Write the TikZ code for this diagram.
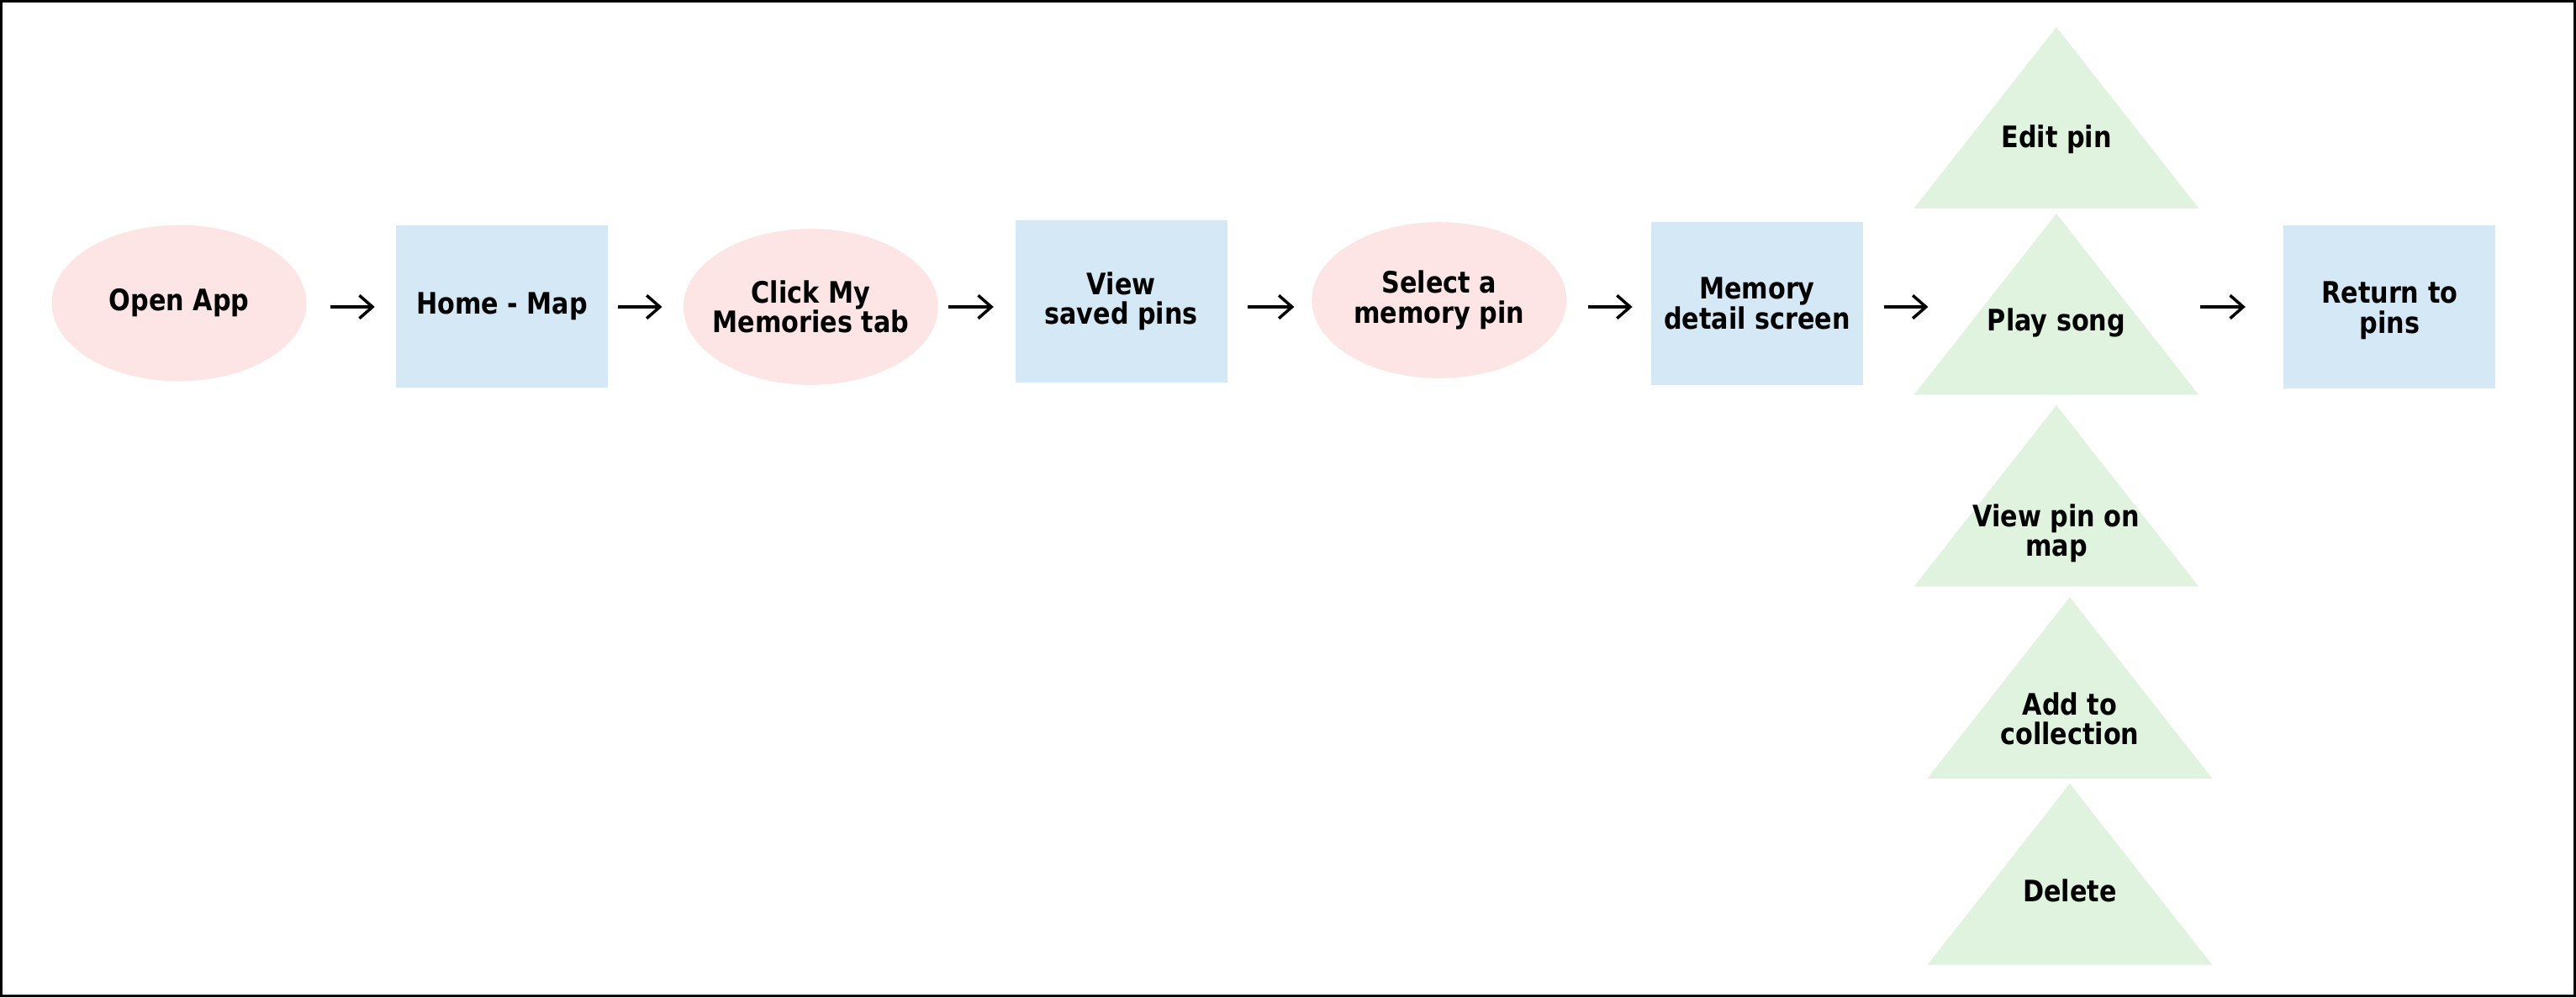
\documentclass[tikz,border=0pt]{standalone}
\usepackage{fontspec}
\newfontfamily\lblfont{DejaVu Sans Bold}[FakeStretch=0.86]
\usetikzlibrary{shapes.geometric,arrows.meta}
\definecolor{pinkfill}{HTML}{FDE4E5}
\definecolor{bluefill}{HTML}{D5E8F5}
\definecolor{greenfill}{HTML}{E0F3DE}
\tikzset{
  lbl/.style={font=\lblfont\fontsize{18}{18}\selectfont, align=center, text=black},
  oval/.style={rectangle, minimum width=155pt, minimum height=95pt, inner sep=0pt, lbl,
    path picture={\fill[pinkfill] (path picture bounding box.center) ellipse [x radius=77.5pt, y radius=47.5pt];}},
  box/.style={rectangle, fill=bluefill, minimum width=129pt, minimum height=99pt, inner sep=0pt, lbl},
  tri/.style={rectangle, minimum width=173.3pt, minimum height=110.3pt, inner sep=0pt,
    path picture={\fill[greenfill] (path picture bounding box.north) -- (path picture bounding box.south west) -- (path picture bounding box.south east) -- cycle;}},
  flow/.style={draw=black, line width=1.8pt, -{Straight Barb[length=8pt,width=14pt,line width=1.8pt]}}
}
\begin{document}
\begin{tikzpicture}[x=1pt,y=-1pt]
\useasboundingbox (0,0) rectangle (1568,607);
\fill[white] (0,0) rectangle (1568,607);
\draw[line width=1.5pt] (0.75,0.75) rectangle (1567.25,606.25);

\coordinate (row) at (0,186.8);

\node[oval] (open) at (109,184.5) {Open App};
\node[box] (home) at (305.5,186.5) {Home - Map};
\node[oval] (click) at (493.5,186.8) {Click My\\Memories tab};
\node[box] (saved) at (682.5,183.5) {View\\saved pins};
\node[oval] (select) at (876,182.7) {Select a\\memory pin};
\node[box] (mem) at (1069.5,184.7) {Memory\\detail screen};
\node[box] (ret) at (1454.5,186.7) {};
\node[lbl] (rett) at ([yshift=-2.3pt]ret.center) {Return to\\pins};

\node[tri] (edit) at (1251.7,71.65) {};
\node[tri] (play) at (1251.7,185.2) {};
\node[tri] (viewmap) at (1251.7,301.85) {};
\node[tri] (addcol) at (1259.85,418.6) {};
\node[tri] (del) at (1259.85,532.15) {};

\node[lbl, anchor=base] (editt) at (1251.7,89.9) {Edit pin};
\node[lbl, anchor=base] (playt) at (1251.7,201.3) {Play song};
\node[lbl] (viewmapt) at (1251.7,324.4) {View pin on\\map};
\node[lbl] (addcolt) at (1259.85,437.3) {Add to\\collection};
\node[lbl, anchor=base] (delt) at (1259.85,548.6) {Delete};

\draw[flow, shorten <=14.5pt, shorten >=12.7pt] (open.east |- row) -- (home.west |- row);
\draw[flow, shorten <=6pt, shorten >=12.8pt] (home.east |- row) -- (click.west |- row);
\draw[flow, shorten <=6pt, shorten >=13pt] (click.east |- row) -- (saved.west |- row);
\draw[flow, shorten <=12pt, shorten >=10.5pt] (saved.east |- row) -- (select.west |- row);
\draw[flow, shorten <=13pt, shorten >=11.2pt] (select.east |- row) -- (mem.west |- row);
\draw[flow, shorten <=12.4pt, shorten >=-8.8pt] (mem.east |- row) -- (play.west |- row);
\draw[flow, shorten <=0.5pt, shorten >=23pt] (play.east |- row) -- (ret.west |- row);
\end{tikzpicture}
\end{document}
